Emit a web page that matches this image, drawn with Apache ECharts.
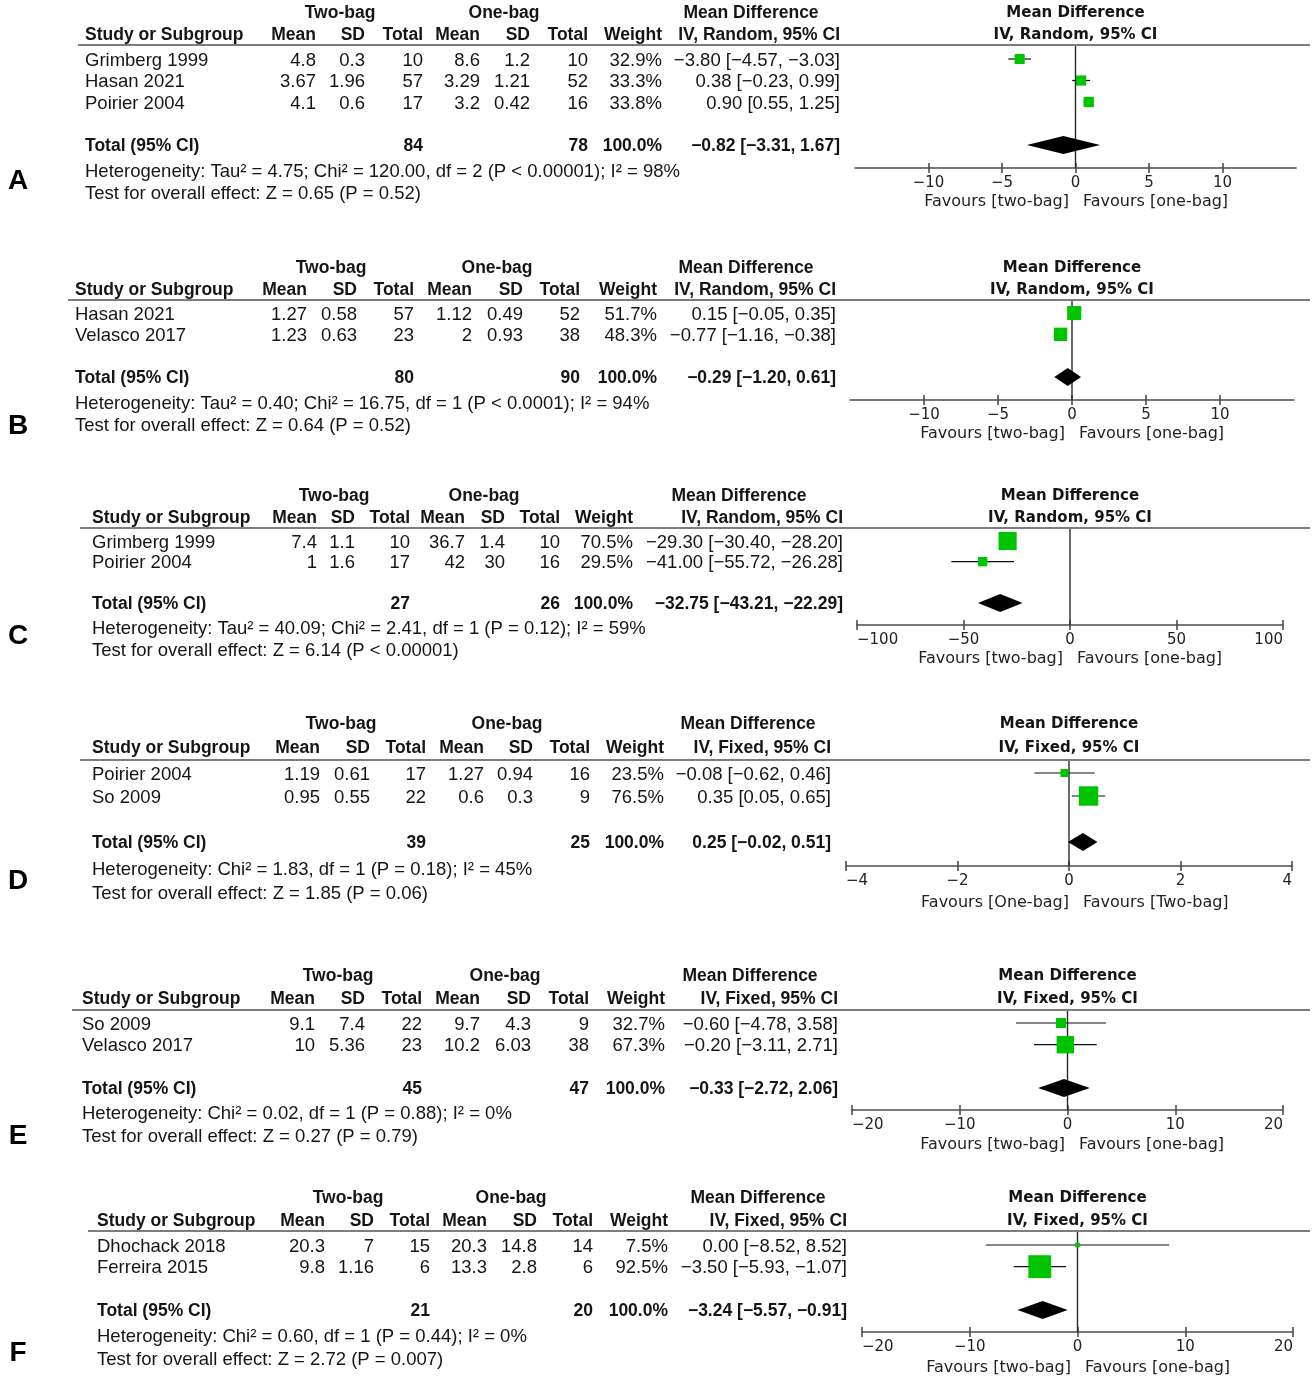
<!DOCTYPE html>
<html><head><meta charset="utf-8">
<script src="https://cdn.jsdelivr.net/npm/echarts@6/dist/echarts.min.js"></script>
<style>html,body{margin:0;padding:0;background:#fff}#c{width:1314px;height:1383px}</style>
</head><body><div id="c"></div>
<script>
// ================= DATA =================
// Panel A
const A_study = ['Grimberg 1999', 'Hasan 2021', 'Poirier 2004'];
const A_twoBag = [[4.8, 0.3, 10], [3.67, 1.96, 57], [4.1, 0.6, 17]];   // mean, SD, total
const A_oneBag = [[8.6, 1.2, 10], [3.29, 1.21, 52], [3.2, 0.42, 16]];
const A_weight = [32.9, 33.3, 33.8];
const A_md = [[-3.80, -4.57, -3.03], [0.38, -0.23, 0.99], [0.90, 0.55, 1.25]]; // MD, lower, upper
const A_totalN = [84, 78];
const A_totalMD = [-0.82, -3.31, 1.67];
const A_het = 'Heterogeneity: Tau² = 4.75; Chi² = 120.00, df = 2 (P < 0.00001); I² = 98%';
const A_test = 'Test for overall effect: Z = 0.65 (P = 0.52)';
const A_range = [-15, 15];
const A_ticks = [-10, -5, 0, 5, 10];
const A_favours = ['Favours [two-bag]', 'Favours [one-bag]'];
const A_model = 'IV, Random, 95% CI';

// Panel B
const B_study = ['Hasan 2021', 'Velasco 2017'];
const B_twoBag = [[1.27, 0.58, 57], [1.23, 0.63, 23]];
const B_oneBag = [[1.12, 0.49, 52], [2, 0.93, 38]];
const B_weight = [51.7, 48.3];
const B_md = [[0.15, -0.05, 0.35], [-0.77, -1.16, -0.38]];
const B_totalN = [80, 90];
const B_totalMD = [-0.29, -1.20, 0.61];
const B_het = 'Heterogeneity: Tau² = 0.40; Chi² = 16.75, df = 1 (P < 0.0001); I² = 94%';
const B_test = 'Test for overall effect: Z = 0.64 (P = 0.52)';
const B_range = [-15, 15];
const B_ticks = [-10, -5, 0, 5, 10];
const B_favours = ['Favours [two-bag]', 'Favours [one-bag]'];
const B_model = 'IV, Random, 95% CI';

// Panel C
const C_study = ['Grimberg 1999', 'Poirier 2004'];
const C_twoBag = [[7.4, 1.1, 10], [1, 1.6, 17]];
const C_oneBag = [[36.7, 1.4, 10], [42, 30, 16]];
const C_weight = [70.5, 29.5];
const C_md = [[-29.30, -30.40, -28.20], [-41.00, -55.72, -26.28]];
const C_totalN = [27, 26];
const C_totalMD = [-32.75, -43.21, -22.29];
const C_het = 'Heterogeneity: Tau² = 40.09; Chi² = 2.41, df = 1 (P = 0.12); I² = 59%';
const C_test = 'Test for overall effect: Z = 6.14 (P < 0.00001)';
const C_range = [-100, 100];
const C_ticks = [-100, -50, 0, 50, 100];
const C_favours = ['Favours [two-bag]', 'Favours [one-bag]'];
const C_model = 'IV, Random, 95% CI';

// Panel D
const D_study = ['Poirier 2004', 'So 2009'];
const D_twoBag = [[1.19, 0.61, 17], [0.95, 0.55, 22]];
const D_oneBag = [[1.27, 0.94, 16], [0.6, 0.3, 9]];
const D_weight = [23.5, 76.5];
const D_md = [[-0.08, -0.62, 0.46], [0.35, 0.05, 0.65]];
const D_totalN = [39, 25];
const D_totalMD = [0.25, -0.02, 0.51];
const D_het = 'Heterogeneity: Chi² = 1.83, df = 1 (P = 0.18); I² = 45%';
const D_test = 'Test for overall effect: Z = 1.85 (P = 0.06)';
const D_range = [-4, 4];
const D_ticks = [-4, -2, 0, 2, 4];
const D_favours = ['Favours [One-bag]', 'Favours [Two-bag]'];
const D_model = 'IV, Fixed, 95% CI';

// Panel E
const E_study = ['So 2009', 'Velasco 2017'];
const E_twoBag = [[9.1, 7.4, 22], [10, 5.36, 23]];
const E_oneBag = [[9.7, 4.3, 9], [10.2, 6.03, 38]];
const E_weight = [32.7, 67.3];
const E_md = [[-0.60, -4.78, 3.58], [-0.20, -3.11, 2.71]];
const E_totalN = [45, 47];
const E_totalMD = [-0.33, -2.72, 2.06];
const E_het = 'Heterogeneity: Chi² = 0.02, df = 1 (P = 0.88); I² = 0%';
const E_test = 'Test for overall effect: Z = 0.27 (P = 0.79)';
const E_range = [-20, 20];
const E_ticks = [-20, -10, 0, 10, 20];
const E_favours = ['Favours [two-bag]', 'Favours [one-bag]'];
const E_model = 'IV, Fixed, 95% CI';

// Panel F
const F_study = ['Dhochack 2018', 'Ferreira 2015'];
const F_twoBag = [[20.3, 7, 15], [9.8, 1.16, 6]];
const F_oneBag = [[20.3, 14.8, 14], [13.3, 2.8, 6]];
const F_weight = [7.5, 92.5];
const F_md = [[0.00, -8.52, 8.52], [-3.50, -5.93, -1.07]];
const F_totalN = [21, 20];
const F_totalMD = [-3.24, -5.57, -0.91];
const F_het = 'Heterogeneity: Chi² = 0.60, df = 1 (P = 0.44); I² = 0%';
const F_test = 'Test for overall effect: Z = 2.72 (P = 0.007)';
const F_range = [-20, 20];
const F_ticks = [-20, -10, 0, 10, 20];
const F_favours = ['Favours [two-bag]', 'Favours [one-bag]'];
const F_model = 'IV, Fixed, 95% CI';

// ================= LAYOUT (pixels) =================
const LAYOUT = [
  {letter:'A', letterY:180, h1:12, h2:34, line:45, lineX0:78, row1:59, pitch:21.5, het:170, test:192, axisY:168, favY:200, studyX:85,
   cols:[316,365,423,480,530,588,662,840], gTwo:340, gOne:504, gMD:751, px0:855, px1:1296, favMid:1076, endAlign:false},
  {letter:'B', letterY:425, h1:267, h2:289, line:300, lineX0:68, row1:313, pitch:21.33, het:402, test:424, axisY:400, favY:432, studyX:75,
   cols:[307,357,414,472,523,580,657,836], gTwo:331, gOne:497, gMD:746, px0:850, px1:1294, favMid:1072, endAlign:false},
  {letter:'C', letterY:635, h1:495, h2:517, line:528, lineX0:80, row1:541, pitch:20.67, het:627, test:649, axisY:625, favY:657, studyX:92,
   cols:[317,355,410,465,505,560,633,843], gTwo:334, gOne:484, gMD:739, px0:857, px1:1283, favMid:1070, endAlign:true},
  {letter:'D', letterY:880, h1:723, h2:747, line:760, lineX0:80, row1:773, pitch:23, het:868, test:892, axisY:866, favY:901, studyX:92,
   cols:[320,370,426,484,533,590,664,831], gTwo:341, gOne:507, gMD:748, px0:846, px1:1292, favMid:1076, endAlign:true},
  {letter:'E', letterY:1135, h1:975, h2:998, line:1010, lineX0:72, row1:1023, pitch:21.67, het:1112, test:1135, axisY:1110, favY:1143, studyX:82,
   cols:[315,365,422,480,531,589,665,838], gTwo:338, gOne:505, gMD:750, px0:852, px1:1283, favMid:1072, endAlign:true},
  {letter:'F', letterY:1352, h1:1197, h2:1220, line:1231, lineX0:88, row1:1245, pitch:21.67, het:1335, test:1358, axisY:1332, favY:1366, studyX:97,
   cols:[325,374,430,487,537,593,668,847], gTwo:348, gOne:511, gMD:758, px0:862, px1:1293, favMid:1078, endAlign:true}
];

const PANELS = [
  {study:A_study, two:A_twoBag, one:A_oneBag, weight:A_weight, md:A_md, totalN:A_totalN, totalMD:A_totalMD, het:A_het, test:A_test, range:A_range, ticks:A_ticks, favours:A_favours, model:A_model},
  {study:B_study, two:B_twoBag, one:B_oneBag, weight:B_weight, md:B_md, totalN:B_totalN, totalMD:B_totalMD, het:B_het, test:B_test, range:B_range, ticks:B_ticks, favours:B_favours, model:B_model},
  {study:C_study, two:C_twoBag, one:C_oneBag, weight:C_weight, md:C_md, totalN:C_totalN, totalMD:C_totalMD, het:C_het, test:C_test, range:C_range, ticks:C_ticks, favours:C_favours, model:C_model},
  {study:D_study, two:D_twoBag, one:D_oneBag, weight:D_weight, md:D_md, totalN:D_totalN, totalMD:D_totalMD, het:D_het, test:D_test, range:D_range, ticks:D_ticks, favours:D_favours, model:D_model},
  {study:E_study, two:E_twoBag, one:E_oneBag, weight:E_weight, md:E_md, totalN:E_totalN, totalMD:E_totalMD, het:E_het, test:E_test, range:E_range, ticks:E_ticks, favours:E_favours, model:E_model},
  {study:F_study, two:F_twoBag, one:F_oneBag, weight:F_weight, md:F_md, totalN:F_totalN, totalMD:F_totalMD, het:F_het, test:F_test, range:F_range, ticks:F_ticks, favours:F_favours, model:F_model}
];

// ================= BUILD =================
const TFONT = '"Liberation Sans", Arial, sans-serif';
const PFONT = '"DejaVu Sans", sans-serif';
const TSIZE = 18.5;     // regular table text
const TBSIZE = 17.5;    // bold table text
const DY = 1.5;         // vertical text nudge
const GREEN = '#00c400';
const TXT = '#151515';

const graphic = [], grid = [], xAxis = [], yAxis = [], series = [];

function T(x, y, text, o) {
  o = o || {};
  const align = o.align || 'left';
  graphic.push({
    type: 'text', silent: true, z: 10,
    style: {
      x: x, y: y + DY, text: text, fill: o.color || TXT,
      fontFamily: o.family || TFONT, fontSize: o.size || (o.bold ? TBSIZE : TSIZE), fontWeight: o.bold ? 'bold' : 'normal',
      align: align, textAlign: align, verticalAlign: 'middle', textVerticalAlign: 'middle'
    }
  });
}
function L(x1, y1, x2, y2, color, w) {
  graphic.push({type: 'line', silent: true, z: 5, shape: {x1, y1, x2, y2}, style: {stroke: color, lineWidth: w}});
}
const f2 = v => (v < 0 ? '\u2212' : '') + Math.abs(v).toFixed(2);
const mdText = m => f2(m[0]) + ' [' + f2(m[1]) + ', ' + f2(m[2]) + ']';
const tickFmt = v => (v < 0 ? '\u2212' + Math.abs(v) : String(v));

PANELS.forEach((P, i) => {
  const G = LAYOUT[i];
  const n = P.study.length;
  const rowY = k => G.row1 + k * G.pitch;   // k: 0-based row slot
  // ---- panel letter
  T(18, G.letterY, G.letter, {bold: true, size: 28, align: 'center', color: '#000'});
  // ---- table headers
  T(G.gTwo, G.h1, 'Two-bag', {bold: true, align: 'center'});
  T(G.gOne, G.h1, 'One-bag', {bold: true, align: 'center'});
  T(G.gMD, G.h1, 'Mean Difference', {bold: true, align: 'center'});
  T(G.studyX, G.h2, 'Study or Subgroup', {bold: true});
  ['Mean', 'SD', 'Total', 'Mean', 'SD', 'Total', 'Weight', P.model].forEach((h, c) =>
    T(G.cols[c], G.h2, h, {bold: true, align: 'right'}));
  L(G.lineX0, G.line, 1310, G.line, '#7d7d7d', 2);
  // ---- study rows
  P.study.forEach((s, k) => {
    const y = rowY(k);
    const vals = [String(P.two[k][0]), String(P.two[k][1]), String(P.two[k][2]),
                  String(P.one[k][0]), String(P.one[k][1]), String(P.one[k][2]),
                  P.weight[k].toFixed(1) + '%', mdText(P.md[k])];
    T(G.studyX, y, s);
    vals.forEach((v, c) => T(G.cols[c], y, v, {align: 'right'}));
  });
  // ---- total row
  const ty = rowY(n + 1);
  T(G.studyX, ty, 'Total (95% CI)', {bold: true});
  T(G.cols[2], ty, String(P.totalN[0]), {bold: true, align: 'right'});
  T(G.cols[5], ty, String(P.totalN[1]), {bold: true, align: 'right'});
  T(G.cols[6], ty, '100.0%', {bold: true, align: 'right'});
  T(G.cols[7], ty, mdText(P.totalMD), {bold: true, align: 'right'});
  T(G.studyX, G.het, P.het);
  T(G.studyX, G.test, P.test);

  // ---- plot
  const [xmin, xmax] = P.range;
  const zeroX = G.px0 + (0 - xmin) / (xmax - xmin) * (G.px1 - G.px0);
  T(zeroX, G.h1, 'Mean Difference', {bold: true, align: 'center', family: PFONT, size: 15});
  T(zeroX, G.h2, P.model, {bold: true, align: 'center', family: PFONT, size: 15});
  T(G.favMid - 7, G.favY, P.favours[0], {align: 'right', family: PFONT, size: 16, color: '#222'});
  T(G.favMid + 7, G.favY, P.favours[1], {align: 'left', family: PFONT, size: 16, color: '#222'});

  const ymin = 1 - (G.row1 - G.line) / G.pitch;
  const ymax = 1 + (G.axisY - G.row1) / G.pitch;
  grid.push({left: G.px0, width: G.px1 - G.px0, top: G.line, height: G.axisY - G.line, containLabel: false, show: false});
  const axCol = '#4d4d4d';
  const lbl = {show: true, customValues: P.ticks, margin: 8, formatter: tickFmt, color: '#222', fontFamily: PFONT, fontSize: 15};
  if (G.endAlign) { lbl.alignMinLabel = 'left'; lbl.alignMaxLabel = 'right'; }
  xAxis.push({
    type: 'value', gridIndex: i, min: xmin, max: xmax, position: 'bottom',
    axisLine: {show: true, onZero: false, lineStyle: {color: axCol, width: 1.6}},
    axisTick: {show: true, customValues: P.ticks, length: 5, lineStyle: {color: axCol, width: 1.6}},
    axisLabel: lbl,
    splitLine: {show: false}
  });
  xAxis.push({
    type: 'value', gridIndex: i, min: xmin, max: xmax, position: 'bottom',
    axisLine: {show: false},
    axisTick: {show: true, inside: true, customValues: P.ticks, length: 5, lineStyle: {color: axCol, width: 1.6}},
    axisLabel: {show: false}, splitLine: {show: false}
  });
  yAxis.push({type: 'value', gridIndex: i, min: ymin, max: ymax, inverse: true, show: false, splitLine: {show: false}});

  // zero line
  series.push({
    type: 'line', xAxisIndex: 2 * i, yAxisIndex: i, data: [[0, ymin], [0, ymax]], symbol: 'none',
    lineStyle: {color: '#2a2a2a', width: 1.4}, silent: true, z: 1, animation: false
  });
  // studies: CI whisker + weighted square
  series.push({
    type: 'custom', xAxisIndex: 2 * i, yAxisIndex: i, z: 3, silent: true, animation: false,
    data: P.md.map((m, k) => [m[0], m[1], m[2], k + 1, P.weight[k]]),
    encode: {x: [0, 1, 2], y: 3},
    renderItem: (params, api) => {
      const r = api.value(3);
      const lo = api.coord([api.value(1), r]), hi = api.coord([api.value(2), r]), c = api.coord([api.value(0), r]);
      const s = 3 + 0.215 * api.value(4);
      return {type: 'group', children: [
        {type: 'line', shape: {x1: lo[0], y1: lo[1], x2: hi[0], y2: hi[1]}, style: {stroke: '#111', lineWidth: 1.2}},
        {type: 'rect', shape: {x: c[0] - s / 2, y: c[1] - s / 2, width: s, height: s}, style: {fill: GREEN}}
      ]};
    }
  });
  // pooled diamond
  series.push({
    type: 'custom', xAxisIndex: 2 * i, yAxisIndex: i, z: 3, silent: true, animation: false,
    data: [[P.totalMD[0], P.totalMD[1], P.totalMD[2], n + 2]],
    encode: {x: [0, 1, 2], y: 3},
    renderItem: (params, api) => {
      const r = api.value(3);
      const lo = api.coord([api.value(1), r]), hi = api.coord([api.value(2), r]), c = api.coord([api.value(0), r]);
      const h = 9;
      return {type: 'polygon', shape: {points: [[lo[0], lo[1]], [c[0], c[1] - h], [hi[0], hi[1]], [c[0], c[1] + h]]}, style: {fill: '#000'}};
    }
  });
});

const chart = echarts.init(document.getElementById('c'), null, {renderer: 'canvas'});
chart.setOption({
  backgroundColor: '#fff', animation: false,
  grid, xAxis, yAxis, series, graphic
});
</script>
</body></html>
